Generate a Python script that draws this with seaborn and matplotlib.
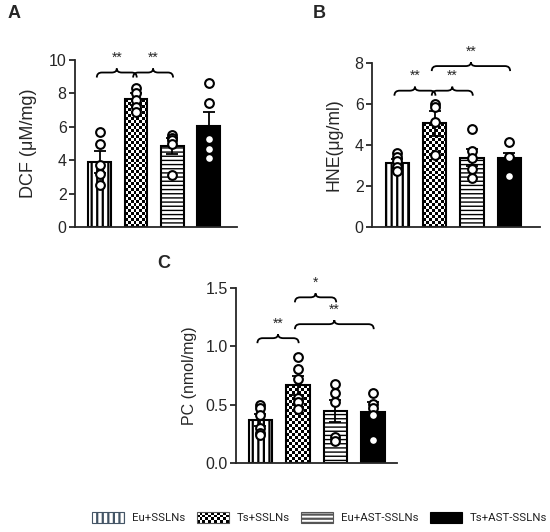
import numpy as np
import pandas as pd
import seaborn as sns
import matplotlib.pyplot as plt
from matplotlib.patches import Patch, Rectangle, PathPatch
from matplotlib.path import Path
from matplotlib.legend_handler import HandlerBase

# 数据
groups = ["Eu+SSLNs", "Ts+SSLNs", "Eu+AST-SSLNs", "Ts+AST-SSLNs"]

dcf_mean = [3.9, 7.65, 4.85, 6.05]
dcf_sem = [0.65, 0.35, 0.45, 0.85]
dcf_pts = [[5.7, 4.95, 3.7, 3.2, 2.5],
           [8.35, 8.05, 7.6, 7.2, 6.9],
           [5.5, 5.35, 5.2, 5.0, 3.1],
           [8.65, 7.45, 5.25, 4.7, 4.15]]

hne_mean = [3.1, 5.06, 3.38, 3.35]
hne_sem = [0.2, 0.6, 0.42, 0.27]
hne_pts = [[3.6, 3.4, 3.2, 2.95, 2.75],
           [6.0, 5.85, 5.1, 3.5],
           [4.8, 3.7, 3.35, 2.85, 2.4],
           [4.15, 3.4, 2.5]]

pc_mean = [0.37, 0.665, 0.445, 0.435]
pc_sem = [0.05, 0.08, 0.095, 0.085]
pc_pts = [[0.5, 0.47, 0.41, 0.3, 0.26, 0.24],
          [0.91, 0.81, 0.72, 0.56, 0.52, 0.46],
          [0.68, 0.6, 0.52, 0.22, 0.19],
          [0.6, 0.51, 0.47, 0.41, 0.2]]

# 显著性括号 (i, j, 高度, 标记)
dcf_sig = [(0, 1, 9.25, "**"), (1, 2, 9.25, "**")]
hne_sig = [(0, 1, 6.65, "**"), (1, 2, 6.65, "**"), (1, 3, 7.85, "**")]
pc_sig = [(0, 1, 1.07, "**"), (1, 2, 1.42, "*"), (1, 3, 1.19, "**")]

sns.set_style("ticks")
plt.rcParams['font.family'] = ['Liberation Sans', 'DejaVu Sans']
plt.rcParams['hatch.linewidth'] = 1.6

fig = plt.figure(figsize=(5.5, 5.32), dpi=100)


def checker(ax, p, cell=3.0):
    x, w, h = p.get_x(), p.get_width(), p.get_height()
    x0p, y0p = ax.transData.transform((x, 0))
    x1p, y1p = ax.transData.transform((x + w, h))
    nc = max(1, int(round((x1p - x0p) / cell)))
    nr = max(1, int(round((y1p - y0p) / cell)))
    arr = np.indices((nr, nc)).sum(0) % 2
    im = ax.imshow(arr, cmap="gray", extent=(x, x + w, 0, h), aspect="auto",
                   interpolation="nearest", zorder=1.5)
    im.set_clip_path(p)
    p.set_facecolor("none")
    p.set_zorder(1.8)


def brace(ax, x0, x1, y, label, d=0.14):
    # 花括号：两端向下弯，中间尖端向上
    lo, hi = ax.get_ylim()
    px = (hi - lo) / ax.bbox.height
    hd, hu = 5 * px, 4 * px
    xm = (x0 + x1) / 2
    verts = [(x0, y - hd), (x0, y), (x0 + d, y),
             (xm - d, y), (xm, y), (xm, y + hu),
             (xm, y), (xm + d, y),
             (x1 - d, y), (x1, y), (x1, y - hd)]
    codes = [Path.MOVETO, Path.CURVE3, Path.CURVE3,
             Path.LINETO, Path.CURVE3, Path.CURVE3,
             Path.CURVE3, Path.CURVE3,
             Path.LINETO, Path.CURVE3, Path.CURVE3]
    ax.add_patch(PathPatch(Path(verts, codes), fc="none", ec="black",
                           lw=1.3, clip_on=False))
    ax.annotate(label, (xm, y + hu), xytext=(0, 2.5), textcoords="offset points",
                ha="center", va="bottom", fontsize=10, annotation_clip=False)


def panel(rect, means, sems, pts, sig, ylim, yticks, ylabel, letter, xlim,
          letter_pos, ylabel_x, ylabel_size):
    ax = fig.add_axes(rect)
    sns.barplot(x=groups, y=means, order=groups, color="white", width=0.63,
                edgecolor="black", linewidth=1.5, ax=ax, zorder=1)
    ax.set_xlim(*xlim)
    ax.set_ylim(*ylim)
    bars = ax.patches[:4]
    bars[0].set_hatch("|||")
    bars[2].set_hatch("----")
    if hasattr(bars[2], "set_hatch_linewidth"):
        bars[2].set_hatch_linewidth(1.0)
    bars[3].set_facecolor("black")
    checker(ax, bars[1])
    ax.set_xlim(*xlim)
    ax.set_ylim(*ylim)
    ax.errorbar(range(4), means, yerr=sems, fmt="none", ecolor="black",
                elinewidth=1.3, capsize=4, capthick=1.3, zorder=2)
    df = pd.DataFrame([(g, v) for g, vals in zip(groups, pts) for v in vals],
                      columns=["group", "value"])
    sns.stripplot(data=df, x="group", y="value", order=groups, jitter=False,
                  color="white", edgecolor="black", linewidth=1.5, size=6.3,
                  ax=ax, zorder=3)
    ax.set_xlim(*xlim)
    ax.set_ylim(*ylim)
    ax.set_yticks(yticks)
    ax.set_xticks([])
    ax.set_xlabel("")
    ax.set_ylabel(ylabel, fontsize=ylabel_size)
    ax.yaxis.set_label_coords(ylabel_x, 0.5)
    ax.tick_params(axis="y", labelsize=11.5, length=4, width=1.3, pad=2)
    for s in ["top", "right"]:
        ax.spines[s].set_visible(False)
    for s in ["left", "bottom"]:
        ax.spines[s].set_linewidth(1.3)
    for i, j, y, lab in sig:
        brace(ax, i - 0.08, j + 0.02, y, lab)
    fig.text(letter_pos[0], letter_pos[1], letter, fontsize=13,
             fontweight="bold", ha="left", va="center")
    return ax


panel([75 / 550, 1 - 227 / 532, 162 / 550, 167 / 532], dcf_mean, dcf_sem,
      dcf_pts, dcf_sig, (0, 10), [0, 2, 4, 6, 8, 10], "DCF (μM/mg)", "A",
      (-0.68, 3.78), (8 / 550, 1 - 14 / 532), -0.235, 13)
panel([372 / 550, 1 - 227 / 532, 168 / 550, 164 / 532], hne_mean, hne_sem,
      hne_pts, hne_sig, (0, 8), [0, 2, 4, 6, 8], "HNE(μg/ml)", "B",
      (-0.68, 3.82), (313 / 550, 1 - 14 / 532), -0.173, 12.7)
axc = panel([236 / 550, 1 - 463 / 532, 161 / 550, 175 / 532], pc_mean,
            pc_sem, pc_pts, pc_sig, (0, 1.5), [0, 0.5, 1.0, 1.5],
            "PC (nmol/mg)", "C", (-0.65, 3.64), (157 / 550, 1 - 263 / 532),
            -0.242, 11.5)
axc.set_yticklabels(["0.0", "0.5", "1.0", "1.5"])


class CheckerHandler(HandlerBase):
    def create_artists(self, legend, orig_handle, xdescent, ydescent, width,
                       height, fontsize, trans):
        arts = [Rectangle((-xdescent, -ydescent), width, height, fc="white",
                          ec="none", transform=trans)]
        nc, nr = 11, 4
        cw, ch = width / nc, height / nr
        for r in range(nr):
            for c in range(nc):
                if (r + c) % 2 == 0:
                    arts.append(Rectangle((-xdescent + c * cw, -ydescent + r * ch),
                                          cw, ch, fc="black", ec="none",
                                          transform=trans))
        arts.append(Rectangle((-xdescent, -ydescent), width, height, fc="none",
                              ec="#555555", lw=0.8, transform=trans))
        return arts


h_checker = Patch(fc="white", ec="black")
handles = [Patch(fc="white", ec="#445566", hatch="|||", lw=0.8),
           h_checker,
           Patch(fc="white", ec="#555555", hatch="----", lw=0.8),
           Patch(fc="black", ec="black", lw=0.8)]
fig.legend(handles, groups, loc="center", bbox_to_anchor=(0.581, 0.027),
           ncol=4, frameon=False, handlelength=2.8,
           handleheight=1.05, handletextpad=0.7, columnspacing=1.0,
           prop={"family": ["Roboto", "DejaVu Sans"], "size": 8.2},
           handler_map={h_checker: CheckerHandler()}, labelcolor="#222222")

fig.savefig("out.png", dpi=100)
